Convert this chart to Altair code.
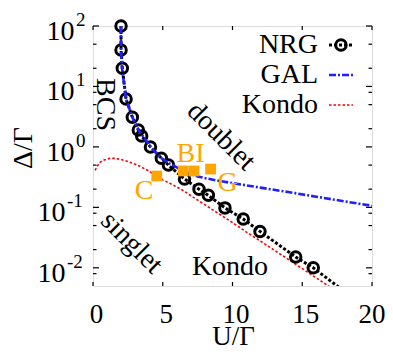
import altair as alt
import pandas as pd

W, H = 279, 260
FONT = "Liberation Serif"
FS = 28

# ---- data ----
nrg_u = [2.01, 2.01, 2.10, 2.37, 2.82, 3.25, 3.49, 4.12, 4.90, 5.41, 6.56, 7.60, 8.27, 9.46, 10.77, 11.97, 14.53, 15.79]
nrg_d = [100, 40, 20, 6.2, 3.1, 1.9, 1.51, 1.0, 0.65, 0.50, 0.295, 0.20, 0.158, 0.098, 0.064, 0.040, 0.0151, 0.0100]
nrg_tail_u = [18.0]
nrg_tail_d = [0.0041]

gal_u = [2.0, 2.01, 2.08, 2.25, 2.37, 2.82, 3.3, 4.12, 4.9, 5.5, 6.0, 6.5, 7.0, 7.5, 8, 9, 10, 11, 12, 14, 16, 18, 20]
gal_d = [100, 40, 20, 10, 6.2, 3.1, 1.85, 1.0, 0.65, 0.53, 0.46, 0.40, 0.355, 0.325, 0.305, 0.275, 0.252, 0.231, 0.212, 0.179, 0.15, 0.126, 0.106]

kondo_u = [0.15, 0.3, 0.5, 0.8, 1.2, 1.6, 2.0, 2.5, 3.0, 3.5, 4.0, 4.5, 5.0, 5.5, 6.0, 6.5, 7.0, 8, 9, 10, 11, 12, 13, 14, 15, 16, 17, 18]
kondo_d = [0.41, 0.48, 0.555, 0.61, 0.645, 0.645, 0.62, 0.575, 0.52, 0.46, 0.40, 0.335, 0.285, 0.25, 0.218, 0.188, 0.157, 0.111, 0.079, 0.056, 0.039, 0.0277, 0.0195, 0.0138, 0.0097, 0.0068, 0.0048, 0.0034]

sq_u = [4.57, 6.47, 7.24, 8.43]
sq_d = [0.33, 0.40, 0.40, 0.43]

x_ticks = [0, 5, 10, 15, 20]
y_major = [100, 10, 1, 0.1, 0.01]
y_exp = ["2", "1", "0", "-1", "-2"]
y_minor = [50, 20, 8, 5, 2, 0.5, 0.2, 0.08, 0.05, 0.02, 0.008]

legend_labels = ["NRG", "GAL", "Kondo"]

# ---- scales ----
xs = alt.Scale(domain=[0, 20], nice=False, zero=False)
ys = alt.Scale(type="log", domain=[0.005, 100], nice=False)


def X(f="u"):
    return alt.X(f"{f}:Q", scale=xs, axis=None)


def Y(f="d"):
    return alt.Y(f"{f}:Q", scale=ys, axis=None)


nrg_df = pd.DataFrame({"u": nrg_u, "d": nrg_d, "i": range(len(nrg_u))})
nrg_line_df = pd.DataFrame({"u": nrg_u + nrg_tail_u, "d": nrg_d + nrg_tail_d,
                            "i": range(len(nrg_u) + len(nrg_tail_u))})
gal_df = pd.DataFrame({"u": gal_u, "d": gal_d, "i": range(len(gal_u))})
kondo_df = pd.DataFrame({"u": kondo_u, "d": kondo_d, "i": range(len(kondo_u))})
sq_df = pd.DataFrame({"u": sq_u, "d": sq_d})
xt_df = pd.DataFrame({"u": x_ticks, "lab": [str(t) for t in x_ticks]})
ymaj_df = pd.DataFrame({"d": y_major, "e": y_exp})
ymin_df = pd.DataFrame({"d": y_minor})

layers = []

# ticks (inside, mirrored)
layers.append(alt.Chart(ymaj_df).mark_rule(color="black", strokeWidth=1.2).encode(
    y=Y(), x=alt.value(0), x2=alt.value(6)))
layers.append(alt.Chart(ymaj_df).mark_rule(color="black", strokeWidth=1.2).encode(
    y=Y(), x=alt.value(W), x2=alt.value(W - 6)))
layers.append(alt.Chart(ymin_df).mark_rule(color="black", strokeWidth=1.2).encode(
    y=Y(), x=alt.value(0), x2=alt.value(3.5)))
layers.append(alt.Chart(ymin_df).mark_rule(color="black", strokeWidth=1.2).encode(
    y=Y(), x=alt.value(W), x2=alt.value(W - 3.5)))
layers.append(alt.Chart(xt_df).mark_rule(color="black", strokeWidth=1.2).encode(
    x=X(), y=alt.value(H), y2=alt.value(H - 4)))
layers.append(alt.Chart(xt_df).mark_rule(color="black", strokeWidth=1.2).encode(
    x=X(), y=alt.value(0), y2=alt.value(4)))

# tick labels
xt_inner = xt_df[xt_df["u"] < 20]
xt_last = xt_df[xt_df["u"] >= 20]
layers.append(alt.Chart(xt_inner).mark_text(font=FONT, fontSize=27, align="center",
                                            baseline="alphabetic", dx=3.5).encode(
    x=X(), y=alt.value(297), text="lab:N"))
layers.append(alt.Chart(xt_last).mark_text(font=FONT, fontSize=27, align="center",
                                           baseline="alphabetic", dx=0).encode(
    x=X(), y=alt.value(297), text="lab:N"))
for neg in (False, True):
    sub = ymaj_df[ymaj_df["e"].str.startswith("-") == neg]
    w = 20 if neg else 11
    exp_left = -6 - w
    layers.append(alt.Chart(sub).mark_text(font=FONT, fontSize=FS, align="right",
                                           baseline="alphabetic", dy=14).encode(
        y=Y(), x=alt.value(exp_left - 1.5), text=alt.value("10")))
    layers.append(alt.Chart(sub).mark_text(font=FONT, fontSize=19, align="left",
                                           baseline="alphabetic", dy=0).encode(
        y=Y(), x=alt.value(exp_left), text="e:N"))

# axis titles
layers.append(alt.Chart(xt_df.head(1)).mark_text(font=FONT, fontSize=27, align="center",
                                                 baseline="alphabetic", text="U/Γ").encode(
    x=alt.value(140.5), y=alt.value(319)))
layers.append(alt.Chart(xt_df.head(1)).mark_text(font=FONT, fontSize=FS, align="center",
                                                 baseline="middle", angle=270, text="Δ/Γ").encode(
    x=alt.value(-69), y=alt.value(122)))

# curves
layers.append(alt.Chart(kondo_df).mark_line(color="#ff0000", strokeWidth=1.6,
                                            strokeDash=[2.5, 2], clip=True).encode(
    x=X(), y=Y(), order="i:Q"))
layers.append(alt.Chart(nrg_line_df).mark_line(color="black", strokeWidth=3,
                                               strokeDash=[3, 2], clip=True).encode(
    x=X(), y=Y(), order="i:Q"))
layers.append(alt.Chart(nrg_df).mark_point(shape="circle", filled=False, color="black",
                                           strokeWidth=3, size=110, opacity=1).encode(
    x=X(), y=Y()))
layers.append(alt.Chart(gal_df).mark_line(color="#1f1fff", strokeWidth=2.6,
                                          strokeDash=[7, 2, 2, 2], clip=True).encode(
    x=X(), y=Y(), order="i:Q"))
layers.append(alt.Chart(sq_df).mark_square(color="#ffa500", size=115, opacity=1).encode(
    x=X(), y=Y()))

# annotations
one = xt_df.head(1)
ann = [
    ("BCS", 12, 78.5, 90, "black"),
    ("doublet", 128, 110.5, 45, "black"),
    ("singlet", 38.5, 217, 45, "black"),
    ("C", 51, 165, 0, "#ffa500"),
    ("BI", 97.5, 128, 0, "#ffa500"),
    ("G", 134.5, 156.5, 0, "#ffa500"),
]
for txt, px, py, ang, col in ann:
    layers.append(alt.Chart(one).mark_text(font=FONT, fontSize=FS, align="center",
                                           baseline="middle", angle=ang, color=col,
                                           text=txt).encode(
        x=alt.value(px), y=alt.value(py)))
layers.append(alt.Chart(one).mark_text(font=FONT, fontSize=FS, align="center",
                                       baseline="alphabetic", text="Kondo").encode(
    x=alt.value(137), y=alt.value(249)))

# legend
leg_y = [19, 49, 79]
for lab, ly in zip(legend_labels, leg_y):
    layers.append(alt.Chart(one).mark_text(font=FONT, fontSize=FS, align="right",
                                           baseline="middle", text=lab).encode(
        x=alt.value(225), y=alt.value(ly)))
layers.append(alt.Chart(one).mark_rule(color="black", strokeWidth=3, strokeDash=[3, 2]).encode(
    x=alt.value(236), x2=alt.value(260), y=alt.value(leg_y[0])))
layers.append(alt.Chart(one).mark_point(shape="circle", filled=False, color="black",
                                        strokeWidth=3, size=110, opacity=1).encode(
    x=alt.value(248), y=alt.value(leg_y[0])))
layers.append(alt.Chart(one).mark_rule(color="#1f1fff", strokeWidth=2.6, strokeDash=[7, 2, 2, 2]).encode(
    x=alt.value(236), x2=alt.value(260), y=alt.value(leg_y[1])))
layers.append(alt.Chart(one).mark_rule(color="#ff0000", strokeWidth=1.6, strokeDash=[2.5, 2]).encode(
    x=alt.value(236), x2=alt.value(260), y=alt.value(leg_y[2])))

chart = alt.layer(*layers).properties(
    width=W, height=H,
    padding={"left": 85, "top": 18, "right": 13, "bottom": 64},
    autosize=alt.AutoSizeParams(type="none"),
).configure_view(stroke="black", strokeWidth=1.6).configure(background="white")

chart.save("out.html", embed_options={"renderer": "svg", "actions": False})
